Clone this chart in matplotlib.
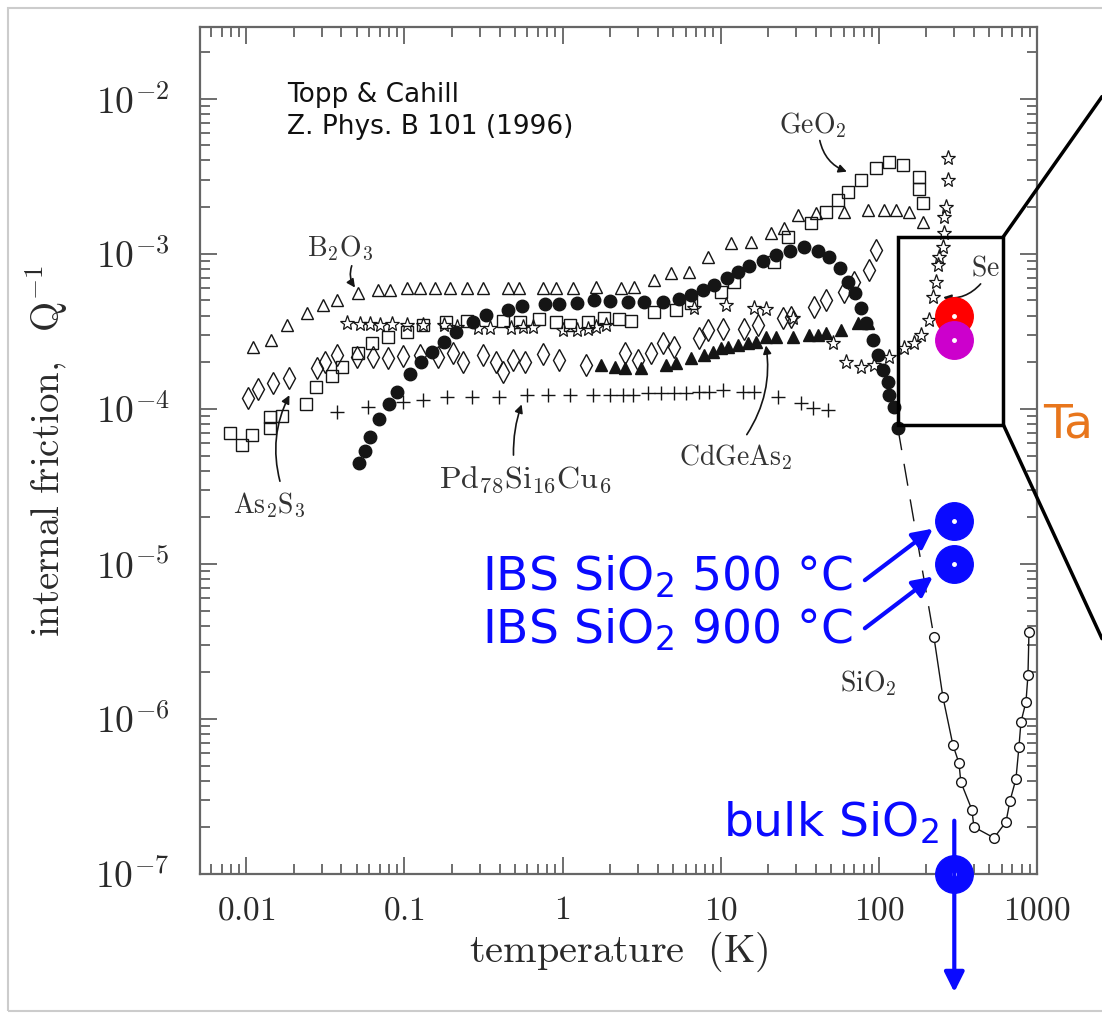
import numpy as np
import matplotlib.pyplot as plt
from matplotlib.patches import Rectangle, ConnectionPatch

plt.rcParams['mathtext.fontset'] = 'cm'

# ---- data (temperature K, internal friction) ----
fill_T = [0.0519, 0.0566, 0.061, 0.0695, 0.0804, 0.0903, 0.108, 0.128, 0.150, 0.179, 0.213,
          0.273, 0.330, 0.449, 0.558, 0.780, 0.943, 1.24, 1.57, 2.01, 2.58, 3.26, 4.30, 5.42,
          6.45, 7.69, 9.03, 10.9, 12.8, 15.0, 18.4, 22.3, 27.3, 33.5, 41.1, 48.3, 56.6, 63.7,
          70.5, 76.9, 82.7, 91.6, 98.6, 106, 114, 116, 124, 132]
fill_Q = [4.49e-5, 5.36e-5, 6.59e-5, 8.61e-5, 1.08e-4, 1.29e-4, 1.68e-4, 2.01e-4, 2.33e-4,
          2.71e-4, 3.14e-4, 3.64e-4, 4.04e-4, 4.35e-4, 4.62e-4, 4.76e-4, 4.76e-4, 4.83e-4,
          5.05e-4, 4.97e-4, 4.90e-4, 4.90e-4, 4.90e-4, 5.13e-4, 5.44e-4, 5.86e-4, 6.31e-4,
          7.0e-4, 7.66e-4, 8.37e-4, 9.02e-4, 9.86e-4, 1.05e-3, 1.11e-3, 1.05e-3, 9.57e-4,
          8.13e-4, 6.6e-4, 5.6e-4, 4.48e-4, 3.59e-4, 2.79e-4, 2.23e-4, 1.79e-4, 1.49e-4,
          1.23e-4, 1.03e-4, 7.5e-5]

b2o3_T = [0.0111, 0.0144, 0.0182, 0.0243, 0.0307, 0.0377, 0.0512, 0.0685, 0.0815, 0.1045,
          0.126, 0.157, 0.195, 0.25, 0.316, 0.449, 0.527, 0.747, 0.903, 1.17, 1.62, 2.33, 2.81,
          3.77, 4.83, 6.27, 8.27, 11.6, 15.5, 20.7, 25.0, 30.7, 39.9, 60.0, 85.2, 108, 128,
          155, 190]
b2o3_Q = [2.51e-4, 2.79e-4, 3.48e-4, 4.16e-4, 4.69e-4, 5.05e-4, 5.6e-4, 5.86e-4, 5.86e-4,
          6.04e-4, 6.04e-4, 6.04e-4, 6.04e-4, 6.04e-4, 6.04e-4, 6.04e-4, 6.04e-4, 6.04e-4,
          6.04e-4, 6.04e-4, 6.13e-4, 6.04e-4, 6.13e-4, 6.79e-4, 7.53e-4, 7.66e-4, 9.57e-4,
          1.18e-3, 1.19e-3, 1.36e-3, 1.47e-3, 1.79e-3, 1.84e-3, 1.87e-3, 1.92e-3, 1.92e-3,
          1.92e-3, 1.87e-3, 1.61e-3]

geo2_T = [0.00792, 0.00944, 0.0109, 0.0142, 0.0142, 0.0169, 0.024, 0.0277, 0.035, 0.0405,
          0.0512, 0.0627, 0.0792, 0.1045, 0.132, 0.182, 0.25, 0.423, 0.542, 0.705, 0.903,
          1.12, 1.44, 1.82, 2.26, 2.69, 3.77, 5.19, 6.45, 10.0, 12.1, 21.6, 26.5, 37.1, 46.2,
          55.1, 63.7, 76.9, 95.7, 116, 142, 179, 179, 190]
geo2_Q = [7.0e-5, 5.86e-5, 6.8e-5, 7.5e-5, 8.87e-5, 9.0e-5, 1.08e-4, 1.39e-4, 1.63e-4,
          1.87e-4, 2.3e-4, 2.67e-4, 2.92e-4, 3.14e-4, 3.48e-4, 3.64e-4, 3.70e-4, 3.70e-4,
          3.64e-4, 3.81e-4, 3.64e-4, 3.48e-4, 3.64e-4, 3.87e-4, 3.77e-4, 3.70e-4, 4.23e-4,
          4.35e-4, 4.83e-4, 5.69e-4, 6.6e-4, 8.87e-4, 1.29e-3, 1.58e-3, 1.87e-3, 2.23e-3,
          2.51e-3, 3.0e-3, 3.59e-3, 3.93e-3, 3.75e-3, 3.14e-3, 2.63e-3, 2.13e-3]

as2s3_T = [0.0102, 0.0119, 0.0148, 0.0185, 0.0281, 0.0316, 0.0377, 0.0504, 0.0637, 0.0792,
           0.0986, 0.126, 0.164, 0.204, 0.236, 0.312, 0.377, 0.423, 0.483, 0.583, 0.747,
           0.943, 1.40, 2.5, 2.98, 3.6, 4.3, 5.04, 7.26, 8.27, 10.4, 14.0, 17.1, 24.7, 27.7,
           38.8, 46.2, 60.0, 69.5, 86.4, 95.7]
as2s3_Q = [1.18e-4, 1.35e-4, 1.47e-4, 1.58e-4, 1.84e-4, 2.01e-4, 2.23e-4, 2.17e-4, 2.17e-4,
           2.13e-4, 2.2e-4, 2.23e-4, 2.17e-4, 2.3e-4, 2.01e-4, 2.23e-4, 2.01e-4, 1.73e-4,
           2.07e-4, 2.01e-4, 2.26e-4, 2.07e-4, 1.92e-4, 2.3e-4, 2.07e-4, 2.3e-4, 2.67e-4,
           2.51e-4, 2.87e-4, 3.24e-4, 3.28e-4, 3.28e-4, 3.48e-4, 3.87e-4, 3.93e-4, 4.55e-4,
           5.05e-4, 5.69e-4, 6.6e-4, 7.88e-4, 1.06e-3]

se_T = [0.0436, 0.0527, 0.061, 0.0705, 0.0839, 0.1045, 0.132, 0.177, 0.216, 0.29, 0.35,
        0.469, 0.566, 0.655, 1.01, 1.24, 1.44, 1.62, 1.87, 6.75, 10.8, 16.2, 19.3, 28.6,
        51.2, 61.8, 76.9, 92.9, 116, 144, 167, 184, 207, 220, 230, 236, 240, 254, 258, 258,
        265, 273, 273]
se_Q = [3.59e-4, 3.53e-4, 3.53e-4, 3.48e-4, 3.53e-4, 3.48e-4, 3.48e-4, 3.48e-4, 3.38e-4,
        3.33e-4, 3.33e-4, 3.33e-4, 3.38e-4, 3.38e-4, 3.24e-4, 3.24e-4, 3.28e-4, 3.38e-4,
        3.48e-4, 4.48e-4, 4.69e-4, 4.48e-4, 4.42e-4, 3.87e-4, 2.67e-4, 2.01e-4, 1.87e-4,
        1.92e-4, 2.17e-4, 2.48e-4, 2.67e-4, 3.0e-4, 3.75e-4, 5.28e-4, 6.6e-4, 8.5e-4,
        9.57e-4, 1.11e-3, 1.36e-3, 1.73e-3, 2.01e-3, 3.0e-3, 4.16e-3]

cdgeas2_T = [1.74, 2.16, 2.5, 3.12, 4.49, 5.19, 6.45, 7.8, 8.9, 10.0, 11.2, 12.8, 14.8, 16.7,
             19.3, 22.3, 28.6, 36.1, 41.1, 46.2, 57.5, 73.6, 85.2]
cdgeas2_Q = [1.92e-4, 1.87e-4, 1.84e-4, 1.84e-4, 1.92e-4, 1.98e-4, 2.13e-4, 2.23e-4, 2.33e-4,
             2.48e-4, 2.51e-4, 2.59e-4, 2.67e-4, 2.71e-4, 2.92e-4, 2.92e-4, 2.92e-4, 3.0e-4,
             3.0e-4, 3.09e-4, 3.24e-4, 3.59e-4, 3.59e-4]

pd_T = [0.0377, 0.0592, 0.0986, 0.132, 0.187, 0.269, 0.394, 0.6, 0.815, 1.12, 1.55, 2.01, 2.4,
        2.77, 3.45, 4.17, 5.04, 6.0, 7.26, 8.4, 10.4, 13.8, 16.2, 22.9, 32.1, 38.2, 47.5]
pd_Q = [9.57e-5, 1.03e-4, 1.11e-4, 1.14e-4, 1.19e-4, 1.19e-4, 1.19e-4, 1.23e-4, 1.23e-4,
        1.23e-4, 1.23e-4, 1.23e-4, 1.23e-4, 1.23e-4, 1.27e-4, 1.27e-4, 1.27e-4, 1.27e-4,
        1.29e-4, 1.29e-4, 1.33e-4, 1.29e-4, 1.29e-4, 1.19e-4, 1.09e-4, 1.01e-4, 9.86e-5]

sio2_T = [223, 254, 294, 321, 330, 388, 399, 535, 637, 675, 736, 769, 792, 852, 877, 890]
sio2_Q = [3.38e-6, 1.39e-6, 6.8e-7, 5.2e-7, 3.92e-7, 2.59e-7, 2.01e-7, 1.71e-7, 2.17e-7,
          2.96e-7, 4.1e-7, 6.6e-7, 9.57e-7, 1.29e-6, 1.92e-6, 3.64e-6]

# coloured overlay points (room temperature)
ta_T = [300, 300]
ta_Q = [4.0e-4, 2.8e-4]
ta_colors = ['#ff0000', '#cc00cc']
ibs_T = [300, 300]
ibs_Q = [1.9e-5, 1.0e-5]
bulk_T = [300]
bulk_Q = [1.0e-7]

xticks = [0.01, 0.1, 1, 10, 100, 1000]
xlabels = ['0.01', '0.1', '1', '10', '100', '1000']
yticks = [1e-7, 1e-6, 1e-5, 1e-4, 1e-3, 1e-2]
ylabels = [r'$10^{-7}$', r'$10^{-6}$', r'$10^{-5}$', r'$10^{-4}$', r'$10^{-3}$', r'$10^{-2}$']

# ---- figure ----
fig = plt.figure(figsize=(11.02, 10.17), dpi=100)
ax = fig.add_axes([0.1815, 0.1406, 0.7595, 0.8328])
ax.set_xscale('log')
ax.set_yscale('log')
ax.set_xlim(0.0051, 1000)
ax.set_ylim(1e-7, 0.029)

ink = '#151515'
ax.plot(b2o3_T, b2o3_Q, '^', ms=9, mfc='none', mec=ink, mew=1.0, ls='none')
ax.plot(geo2_T, geo2_Q, 's', ms=8, mfc='none', mec=ink, mew=1.0, ls='none')
ax.plot(as2s3_T, as2s3_Q, 'd', ms=11, mfc='none', mec=ink, mew=1.0, ls='none')
ax.plot(se_T, se_Q, '*', ms=11, mfc='none', mec=ink, mew=0.9, ls='none')
ax.plot(cdgeas2_T, cdgeas2_Q, '^', ms=8, mfc=ink, mec=ink, ls='none')
ax.plot(pd_T, pd_Q, '+', ms=10, mec=ink, mew=1.0, ls='none')
ax.plot(fill_T, fill_Q, 'o', ms=9, mfc=ink, mec=ink, ls='none')
# dashed link between the filled-circle curve and SiO2
ax.plot([fill_T[-1], sio2_T[0]], [fill_Q[-1], sio2_Q[0]], color=ink, lw=1.0,
        dashes=(16, 10))
ax.plot(sio2_T, sio2_Q, '-o', ms=7, mfc='white', mec=ink, mew=1.0, color=ink, lw=1.0)

# labels with curved arrows
lab_kw = dict(fontsize=20, color='#333333', ha='center', va='center')
arr_kw = dict(arrowstyle='-|>', color=ink, lw=1.2, mutation_scale=12)
ax.text(38.0, 6.8e-3, r'$\mathrm{GeO_2}$', **lab_kw)
ax.annotate('', xy=(65.2, 3.34e-3), xytext=(42.0, 5.6e-3),
            arrowprops=dict(connectionstyle='arc3,rad=0.3', **arr_kw))
ax.text(0.0395, 1.09e-3, r'$\mathrm{B_2O_3}$', **lab_kw)
ax.annotate('', xy=(0.0499, 5.86e-4), xytext=(0.0471, 8.7e-4),
            arrowprops=dict(connectionstyle='arc3,rad=0.3', **arr_kw))
ax.text(472, 8.13e-4, r'$\mathrm{Se}$', **lab_kw)
ax.annotate('', xy=(245, 5.28e-4), xytext=(452, 6.6e-4),
            arrowprops=dict(connectionstyle='arc3,rad=-0.3', **arr_kw))
ax.text(0.01386, 2.4e-5, r'$\mathrm{As_2S_3}$', **lab_kw)
ax.annotate('', xy=(0.0191, 1.27e-4), xytext=(0.0165, 3.28e-5),
            arrowprops=dict(connectionstyle='arc3,rad=-0.2', **arr_kw))
ax.text(0.583, 3.48e-5, r'$\mathrm{Pd_{78}Si_{16}Cu_6}$', fontsize=23, color='#333333',
        ha='center', va='center')
ax.annotate('', xy=(0.559, 1.11e-4), xytext=(0.49, 4.83e-5),
            arrowprops=dict(connectionstyle='arc3,rad=-0.1', **arr_kw))
ax.text(12.4, 4.9e-5, r'$\mathrm{CdGeAs_2}$', **lab_kw)
ax.annotate('', xy=(19.2, 2.67e-4), xytext=(14.3, 6.59e-5),
            arrowprops=dict(connectionstyle='arc3,rad=0.2', **arr_kw))
ax.text(86, 1.7e-6, r'$\mathrm{SiO_2}$', **lab_kw)

ax.text(0.104, 0.935, 'Topp & Cahill\nZ. Phys. B 101 (1996)', transform=ax.transAxes,
        fontsize=19, color='#111111', ha='left', va='top', linespacing=1.3,
        family='DejaVu Sans')

# zoom box and connector lines
ax.add_patch(Rectangle((133, 7.9e-5), 613 - 133, 1.29e-3 - 7.9e-5, fill=False,
                       ec='black', lw=2.5, zorder=6))
for yb, yf in [(1.29e-3, 0.905), (7.9e-5, 0.372)]:
    fig.add_artist(ConnectionPatch(xyA=(613, yb), coordsA=ax.transData,
                                   xyB=(1.0, yf), coordsB=fig.transFigure,
                                   color='black', lw=2.5))

# coloured points
blue = '#0a0aff'
for t, q, c in zip(ta_T, ta_Q, ta_colors):
    ax.plot(t, q, 'o', ms=27, color=c, zorder=8, clip_on=False)
ax.plot(ibs_T, ibs_Q, 'o', ms=27, color=blue, zorder=8, ls='none')
ax.plot(bulk_T, bulk_Q, 'o', ms=27, color=blue, zorder=8, clip_on=False)
ax.plot(ta_T + ibs_T + bulk_T, ta_Q + ibs_Q + bulk_Q, 'o', ms=2.5, color='white',
        zorder=9, ls='none', clip_on=False)

bkw = dict(fontsize=34, color=blue, family='DejaVu Sans', math_fontfamily='dejavusans',
           ha='right', va='center')
ax.text(68, 8.2e-6, r'IBS SiO$_2$ 500 °C', **bkw)
ax.text(68, 3.75e-6, r'IBS SiO$_2$ 900 °C', **bkw)
ax.text(238, 2.13e-7, r'bulk SiO$_2$', **bkw)
bl_arr = dict(arrowstyle='-|>', color=blue, lw=3, mutation_scale=30)
ax.annotate('', xy=(227, 1.73e-5), xytext=(79, 7.66e-6), arrowprops=bl_arr, zorder=9)
ax.annotate('', xy=(227, 8.5e-6), xytext=(79, 3.75e-6), arrowprops=bl_arr, zorder=9)
ax.annotate('', xy=(300, 1.66e-8), xytext=(300, 2.3e-7), arrowprops=bl_arr,
            annotation_clip=False, zorder=9)

fig.text(0.9465, 0.582, 'Ta', fontsize=34, color='#e8761c', family='DejaVu Sans',
         ha='left', va='center')

# axes styling
ax.set_xticks(xticks)
ax.set_xticklabels([r'$\mathrm{%s}$' % s for s in xlabels])
ax.set_yticks(yticks)
ax.set_yticklabels(ylabels)
ax.tick_params(which='both', direction='in', top=True, right=True, colors='#555555',
               labelcolor='#2a2a2a', width=1.2)
ax.tick_params(which='major', length=12)
ax.tick_params(which='minor', length=7)
ax.tick_params(axis='x', labelsize=24, pad=14)
ax.tick_params(axis='y', labelsize=27, pad=22)
for s in ax.spines.values():
    s.set_color('#666666')
    s.set_linewidth(1.6)
ax.set_xlabel(r'$\mathrm{temperature\ \ (K)}$', fontsize=29, color='#2a2a2a', labelpad=2)
ax.set_ylabel(r'$\mathrm{internal\ friction,\ \ Q^{-1}}$', fontsize=28, color='#2a2a2a',
              labelpad=18)

# light frame round the whole slide
fig.add_artist(Rectangle((0.007, 0.006), 1.0, 0.986, transform=fig.transFigure,
                         fill=False, ec='#cccccc', lw=1.5))

fig.savefig('out.png', dpi=100)
